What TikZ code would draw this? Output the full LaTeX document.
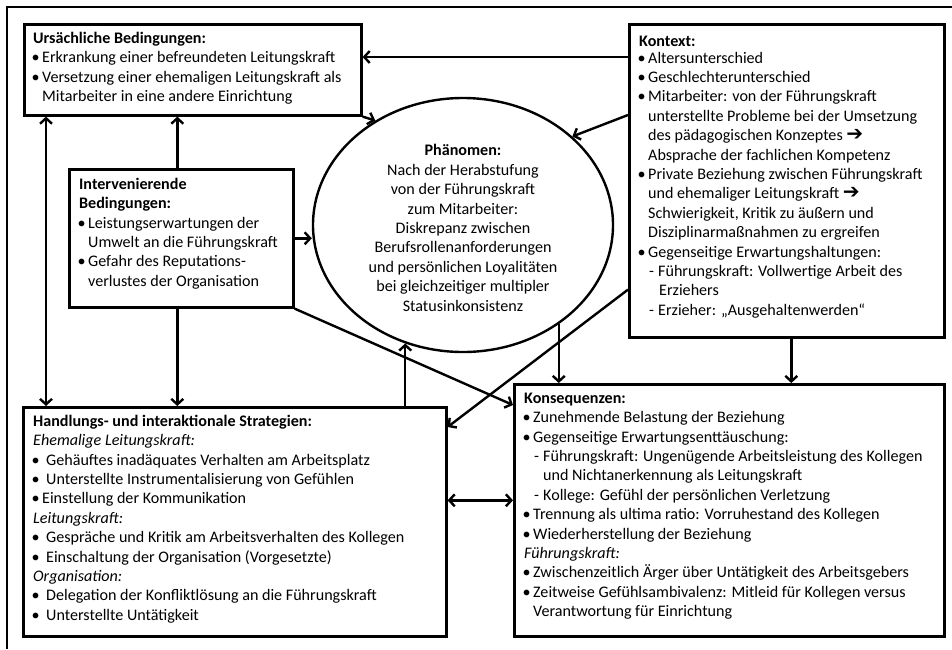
\documentclass[tikz,border=0pt]{standalone}
\usepackage{fontspec}
\usepackage{graphicx}
\setmainfont{Carlito}
\newfontfamily\arrowfont{DejaVu Sans}
\usetikzlibrary{arrows.meta,shapes.geometric}

% body text: Calibri-metric font with fixed line pitch
\newcommand{\bodysize}{\fontsize{16.1pt}{19.4pt}\selectfont}
% strut that fixes the height of a block's first line
\newcommand{\firstline}{\rule{0pt}{15pt}}
% bullet item, optional width of the bullet column
\newcommand{\itm}[1][9pt]{\makebox[#1][l]{\hspace*{-1.5pt}•}}
% dash sub-item under a bullet
\newcommand{\dsh}{\hspace*{10pt}\makebox[9pt][l]{-}}
% indentation of a continued line
\newcommand{\cnt}[1][9pt]{\hspace*{#1}}
% heavy implication arrow
\newcommand{\rarr}{\scalebox{1.25}{\arrowfont\bfseries ➔}}

\begin{document}
\begin{tikzpicture}[x=1pt,y=-1pt,
  box/.style={draw,line width=2.6pt,rectangle,inner sep=0pt,anchor=north west},
  txt/.style={anchor=north west,inner sep=0pt,align=left,font=\bodysize},
  tip/.tip={Straight Barb[length=5.5pt,width=12pt]},
  link/.style={line width=2.4pt,-tip},
  both/.style={line width=2.4pt,tip-tip},
]
\useasboundingbox (0,0) rectangle (952,649);

% outer frame
\draw[line width=2.6pt] (7,649) -- (7,7) -- (952,7);

% boxes
\node[box,minimum width=337pt,minimum height=91pt]  (u) at (23,23)  {};
\node[box,minimum width=315pt,minimum height=313pt] (c) at (628,23) {};
\node[box,minimum width=224pt,minimum height=138pt] (i) at (68,168) {};
\node[box,minimum width=423pt,minimum height=229pt] (h) at (22,406) {};
\node[box,minimum width=430pt,minimum height=252pt] (k) at (513,383) {};

% central phenomenon
\node[ellipse,draw,line width=2.4pt,minimum width=300pt,minimum height=254pt,
      inner sep=0pt,align=center,font=\bodysize] (ph) at (463,225)
  {\rule{0pt}{17pt}\textbf{Phänomen:}\\
   Nach der Herabstufung\\
   von der Führungskraft\\
   zum Mitarbeiter:\\
   Diskrepanz zwischen\\
   Berufsrollenanforderungen\\
   und persönlichen Loyalitäten\\
   bei gleichzeitiger multipler\\
   Statusinkonsistenz};

% box texts
\node[txt] (ut) at (33,28) {\firstline\textbf{Ursächliche Bedingungen:}\\
  \itm Erkrankung einer befreundeten Leitungskraft\\
  \itm Versetzung einer ehemaligen Leitungskraft als\\
  \cnt Mitarbeiter in eine andere Einrichtung};

\node[txt] (ct) at (639,31.5) {\firstline\textbf{Kontext:}\\[-3pt]
  \itm Altersunterschied\\
  \itm Geschlechterunterschied\\
  \itm Mitarbeiter: von der Führungskraft\\
  \cnt unterstellte Probleme bei der Umsetzung\\
  \cnt des pädagogischen Konzeptes \rarr\\
  \cnt Absprache der fachlichen Kompetenz\\
  \itm Private Beziehung zwischen Führungskraft\\
  \cnt und ehemaliger Leitungskraft \rarr\\
  \cnt Schwierigkeit, Kritik zu äußern und\\
  \cnt Disziplinarmaßnahmen zu ergreifen\\
  \itm Gegenseitige Erwartungshaltungen:\\
  \dsh Führungskraft: Vollwertige Arbeit des\\
  \cnt[20pt]Erziehers\\
  \dsh Erzieher: „Ausgehaltenwerden“};

\node[txt] (it) at (79,174) {\firstline\textbf{Intervenierende}\\
  \textbf{Bedingungen:}\\
  \itm Leistungserwartungen der\\
  \cnt Umwelt an die Führungskraft\\
  \itm Gefahr des Reputations-\\
  \cnt verlustes der Organisation};

\node[txt] (ht) at (33,411) {\firstline\textbf{Handlungs- und interaktionale Strategien:}\\
  \textit{Ehemalige Leitungskraft:}\\
  \itm[13pt]Gehäuftes inadäquates Verhalten am Arbeitsplatz\\
  \itm[13pt]Unterstellte Instrumentalisierung von Gefühlen\\
  \itm Einstellung der Kommunikation\\
  \textit{Leitungskraft:}\\
  \itm[13pt]Gespräche und Kritik am Arbeitsverhalten des Kollegen\\
  \itm[13pt]Einschaltung der Organisation (Vorgesetzte)\\
  \textit{Organisation:}\\
  \itm[13pt]Delegation der Konfliktlösung an die Führungskraft\\
  \itm[13pt]Unterstellte Untätigkeit};

\node[txt] (kt) at (524,388) {\firstline\textbf{Konsequenzen:}\\
  \itm Zunehmende Belastung der Beziehung\\
  \itm Gegenseitige Erwartungsenttäuschung:\\
  \dsh Führungskraft: Ungenügende Arbeitsleistung des Kollegen\\
  \cnt[19pt]und Nichtanerkennung als Leitungskraft\\
  \dsh Kollege: Gefühl der persönlichen Verletzung\\
  \itm Trennung als ultima ratio: Vorruhestand des Kollegen\\
  \itm Wiederherstellung der Beziehung\\
  \textit{Führungskraft:}\\
  \itm Zwischenzeitlich Ärger über Untätigkeit des Arbeitsgebers\\
  \itm Zeitweise Gefühlsambivalenz: Mitleid für Kollegen versus\\
  \cnt Verantwortung für Einrichtung};

% connectors
\coordinate (cU) at ([yshift=-34pt]c.north west);
\draw[link] (cU) -- (cU -| u.east);
\draw[link] (u.south east) -- (ph.130);
\coordinate (cP) at ([yshift=-92pt]c.north west);
\draw[link] (cP) -- (ph.39.4);
\draw[link] (i.east) -- (i.east -| ph.west);
\draw[link] ([xshift=-4pt]i.north) -- ([xshift=-4pt]i.north |- u.south);
\draw[link] ([xshift=-4pt]i.south) -- ([xshift=-4pt]i.south |- h.north);
\coordinate (uh) at ([xshift=23pt]u.south west);
\draw[both] (uh) -- (uh |- h.north);
\draw[link] (i.south east) -- ([yshift=-22pt]k.north west);
\draw[link] (h.north -| ph.244.6) -- (ph.244.6);
\coordinate (cH) at ([yshift=49pt]c.south west);
\draw[link] (cH) -- ([yshift=-21pt]h.north east);
\draw[link] (ph.314.5) -- (ph.314.5 |- k.north);
\draw[link] ([xshift=4.5pt]c.south) -- ([xshift=4.5pt]c.south |- k.north);
\coordinate (hk) at ([yshift=21.5pt]h.east);
\draw[both] (hk) -- (hk -| k.west);
\end{tikzpicture}
\end{document}
